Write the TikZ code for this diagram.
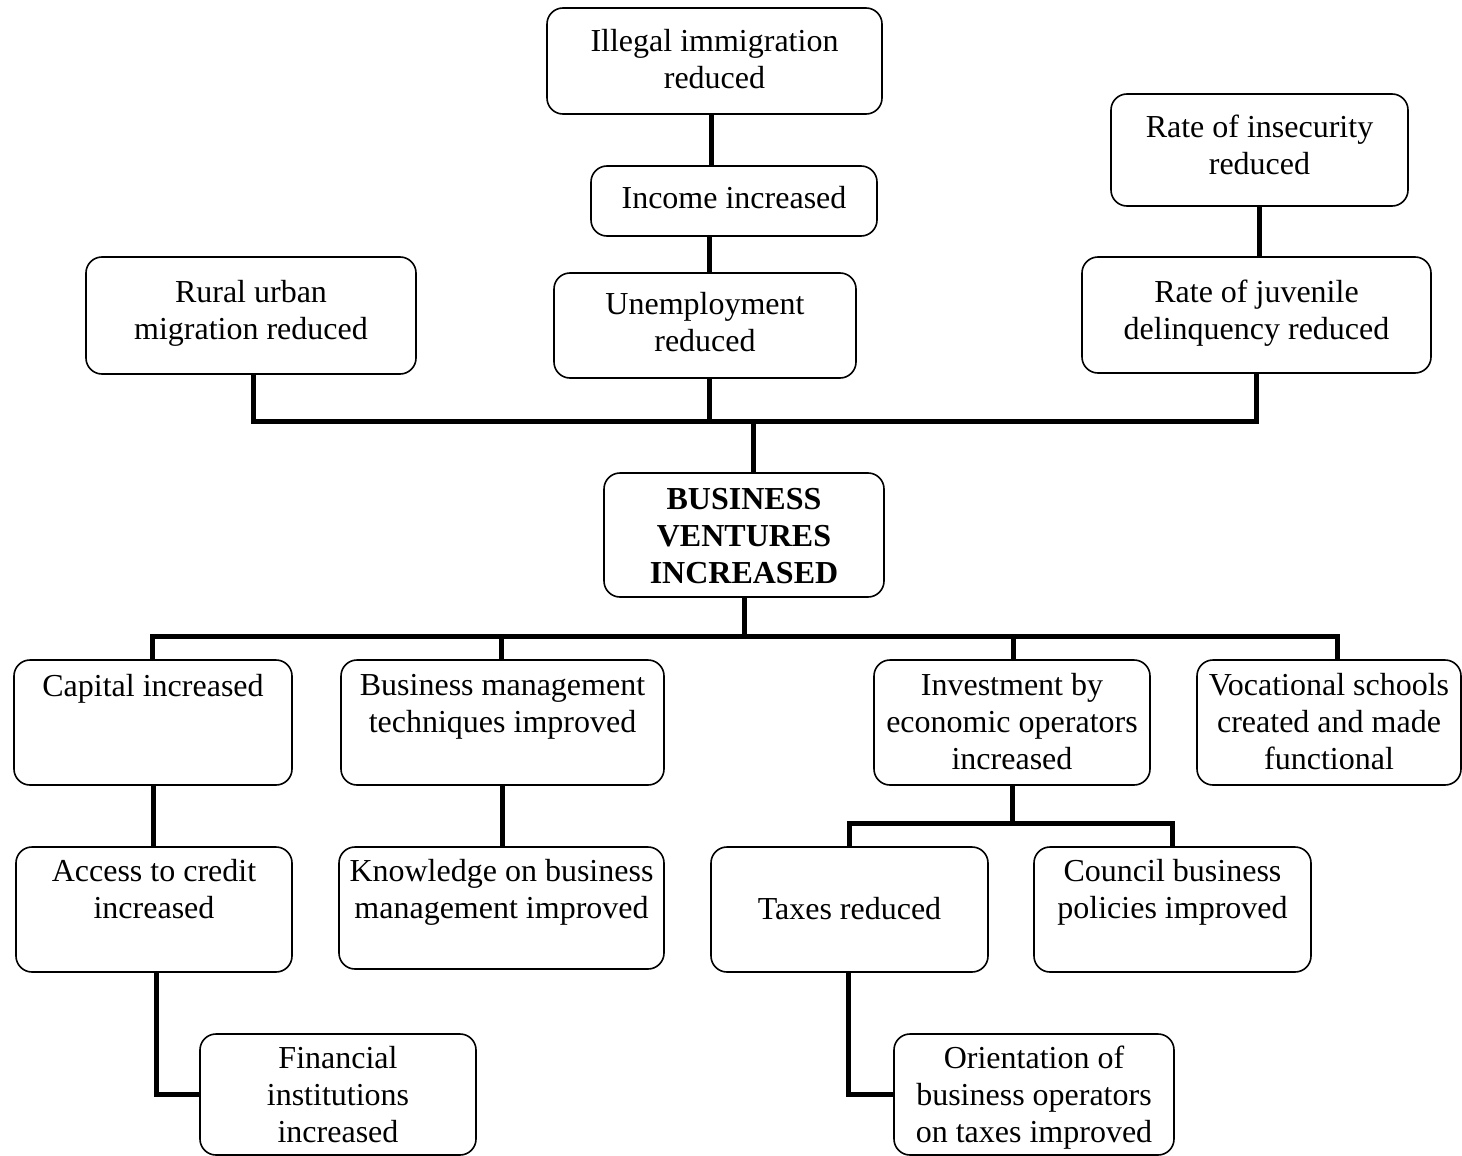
\documentclass[tikz,border=0pt]{standalone}
\usepackage{fontspec}
\setmainfont{Liberation Serif}
% first-line strut with a chosen height (pt) and the usual depth
\newcommand\fl[1]{\rule[-11pt]{0pt}{\dimexpr#1pt+11pt\relax}}
\tikzset{
  box/.style={draw, line width=1.6pt, rounded corners=16pt, align=center,
    inner sep=0pt, font=\fontsize{32}{37}\selectfont},
  link/.style={line width=5pt, line join=miter}
}
\begin{document}
\begin{tikzpicture}[x=1pt, y=-1pt]
\useasboundingbox (0,0) rectangle (1462,1156);

% effects
\node[box, minimum width=335pt, minimum height=106pt] (ill) at (714.5,61) {\fl{30}Illegal immigration\\\strut reduced};
\node[box, minimum width=286pt, minimum height=70pt]  (inc) at (734,201) {\fl{25}Income increased};
\node[box, minimum width=302pt, minimum height=105pt] (une) at (705,325.5) {\fl{27}Unemployment\\\strut reduced};
\node[box, minimum width=330pt, minimum height=117pt] (rur) at (251,315.5) {\fl{21}Rural urban\\\strut migration reduced};
\node[box, minimum width=297pt, minimum height=112pt] (ins) at (1259.5,150) {\fl{22}Rate of insecurity\\\strut reduced};
\node[box, minimum width=349pt, minimum height=116pt] (juv) at (1256.5,315) {\fl{18}Rate of juvenile\\\strut delinquency reduced};

% core problem
\node[box, minimum width=280pt, minimum height=124pt, font=\fontsize{32}{37}\selectfont\bfseries] (bv) at (744,535) {\fl{35}BUSINESS\\\strut VENTURES\\\strut INCREASED};

% causes
\node[box, minimum width=278pt, minimum height=125pt] (cap) at (153,722.5) {\fl{33}Capital increased\\\strut\\\strut};
\node[box, minimum width=323pt, minimum height=125pt] (bmt) at (502.5,722.5) {\fl{31}Business management\\\strut techniques improved\\\strut};
\node[box, minimum width=276pt, minimum height=125pt] (inv) at (1012,722.5) {\fl{31}Investment by\\\strut economic operators\\\strut increased};
\node[box, minimum width=264pt, minimum height=125pt] (voc) at (1329,722.5) {\fl{31}Vocational schools\\\strut created and made\\\strut functional};

\node[box, minimum width=276pt, minimum height=125pt] (acc) at (154,909.5) {\fl{30}Access to credit\\\strut increased\\\strut};
\node[box, minimum width=325pt, minimum height=122pt] (kno) at (501.5,908) {\fl{32}Knowledge on business\\\strut management improved\\\strut};
\node[box, minimum width=277pt, minimum height=125pt] (tax) at (849.5,909.5) {\fl{31}\\\strut Taxes reduced\\\strut};
\node[box, minimum width=277pt, minimum height=125pt] (cou) at (1172.5,909.5) {\fl{30}Council business\\\strut policies improved\\\strut};

\node[box, minimum width=276pt, minimum height=121pt] (fin) at (338,1094.5) {\fl{34}Financial\\\strut institutions\\\strut increased};
\node[box, minimum width=280pt, minimum height=121pt] (ori) at (1034,1094.5) {\fl{34}Orientation of\\\strut business operators\\\strut on taxes improved};

% junction points
\coordinate (j1) at (753,421);
\coordinate (j2) at (744,636);
\coordinate (j3) at (1012,823);

% upper tree
\draw[link] ([xshift=-3.5pt]ill.south) -- ([xshift=-3.5pt]ill.south |- inc.north);
\draw[link] ([xshift=-25pt]inc.south) -- ([xshift=-25pt]inc.south |- une.north);
\draw[link] (ins.south) -- (ins.south |- juv.north);
\draw[link] ([xshift=2pt]rur.south) -- ([xshift=2pt]rur.south |- j1) -- (juv.south |- j1) -- (juv.south);
\draw[link] ([xshift=4pt]une.south) -- ([xshift=4pt]une.south |- j1);
\draw[link] (j1) -- (j1 |- bv.north);

% lower tree
\draw[link] (bv.south) -- (j2);
\draw[link] ([xshift=-1pt]cap.north) -- ([xshift=-1pt]cap.north |- j2) -- ([xshift=8pt]voc.north |- j2) -- ([xshift=8pt]voc.north);
\draw[link] ([xshift=-1.5pt]bmt.north) -- ([xshift=-1.5pt]bmt.north |- j2);
\draw[link] ([xshift=1pt]inv.north) -- ([xshift=1pt]inv.north |- j2);

\draw[link] (cap.south) -- (cap.south |- acc.north);
\draw[link] (bmt.south) -- (bmt.south |- kno.north);
\draw[link] (inv.south) -- (j3);
\draw[link] (tax.north) -- (tax.north |- j3) -- (cou.north |- j3) -- (cou.north);

\draw[link] ([xshift=2pt]acc.south) |- (fin.west);
\draw[link] ([xshift=-1.5pt]tax.south) |- (ori.west);
\end{tikzpicture}
\end{document}
